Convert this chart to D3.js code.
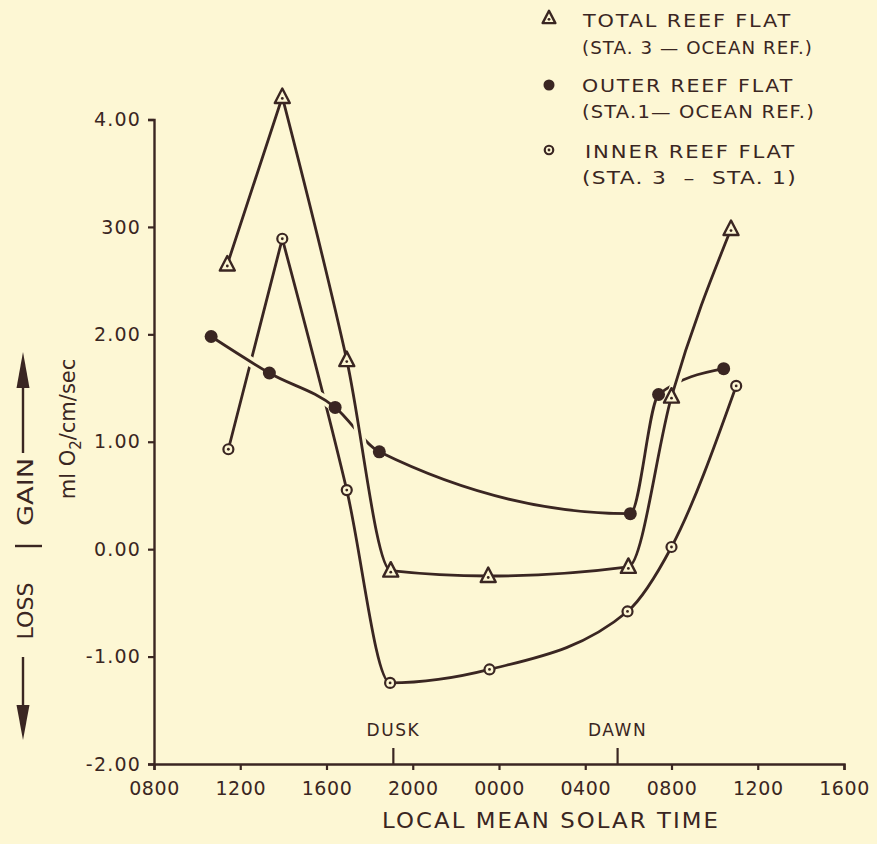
<!DOCTYPE html>
<html><head><meta charset="utf-8">
<script src="https://cdn.jsdelivr.net/npm/d3@7"></script>
<style>
html,body{margin:0;padding:0;background:#fdf7d4;}
svg{display:block;}
text{font-family:"DejaVu Sans",sans-serif;fill:#3a2622;}
</style>
</head><body>
<svg id="chart" width="877" height="844"></svg>
<script>
// ---- data ----
const xTickHours = [8, 12, 16, 20, 24, 28, 32, 36, 40];
const xTickLabels = ["0800", "1200", "1600", "2000", "0000", "0400", "0800", "1200", "1600"];
const yTickValues = [-2, -1, 0, 1, 2, 3, 4];
const yTickLabels = ["-2.00", "-1.00", "0.00", "1.00", "2.00", "300", "4.00"];

const totalHours  = [11.4, 13.95, 16.94, 18.98, 23.5, 30.0, 32.0, 34.76];
const totalValues = [2.65, 4.21, 1.76, -0.20, -0.25, -0.165, 1.42, 2.98];

const outerHours  = [10.65, 13.35, 16.4, 18.45, 30.09, 31.4, 34.42];
const outerValues = [1.98, 1.64, 1.32, 0.906, 0.33, 1.44, 1.68];

const innerHours  = [11.45, 13.95, 16.94, 18.95, 23.56, 29.96, 32.0, 35.0];
const innerValues = [0.93, 2.89, 0.55, -1.245, -1.12, -0.58, 0.02, 1.52];

const eventHours  = [19.1, 29.5];
const eventLabels = ["DUSK", "DAWN"];

const legendTitles = ["TOTAL REEF FLAT", "OUTER REEF FLAT", "INNER REEF FLAT"];
const legendSubs   = ["(STA. 3 \u2014 OCEAN REF.)", "(STA.1\u2014 OCEAN REF.)", "(STA. 3  \u2013  STA. 1)"];

const xTitle = "LOCAL MEAN SOLAR TIME";

// ---- drawing ----
const INK = "#3a2622", BG = "#fdf7d4";
const svg = d3.select("#chart");
svg.append("rect").attr("width", 877).attr("height", 844).attr("fill", BG);

const x = d3.scaleLinear().domain([8, 40]).range([154, 844]);
const y = d3.scaleLinear().domain([-2, 4]).range([764, 119.5]);

// axes
const yAxis = d3.axisLeft(y).tickValues(yTickValues)
  .tickFormat((d, i) => yTickLabels[i]).tickSize(6).tickPadding(7);
const gy = svg.append("g").attr("transform", "translate(154,0)").call(yAxis);
const xAxis = d3.axisBottom(x).tickValues(xTickHours)
  .tickFormat((d, i) => xTickLabels[i]).tickSize(6).tickPadding(12);
const gx = svg.append("g").attr("transform", "translate(0,764)").call(xAxis);

[gx, gy].forEach(g => {
  g.select(".domain").attr("stroke", INK).attr("stroke-width", 2.4);
  g.selectAll(".tick line").attr("stroke", INK).attr("stroke-width", 2.2);
  g.selectAll(".tick text").attr("fill", INK)
    .style("font-family", '"DejaVu Sans",sans-serif');
});
gy.selectAll(".tick text").attr("font-size", 19).attr("letter-spacing", 1.2);
gx.selectAll(".tick text").attr("font-size", 19).attr("letter-spacing", 0.6);

// dusk / dawn markers
svg.selectAll(".evt").data(eventHours).enter().append("line")
  .attr("x1", d => x(d)).attr("x2", d => x(d))
  .attr("y1", 748).attr("y2", 764)
  .attr("stroke", INK).attr("stroke-width", 2.2);
svg.selectAll(".evtlab").data(eventLabels).enter().append("text")
  .attr("x", (d, i) => x(eventHours[i])).attr("y", 736)
  .attr("text-anchor", "middle").attr("font-size", 17).attr("letter-spacing", 1.5)
  .text(d => d);

// x title
svg.append("text").attr("x", 382).attr("y", 828).attr("font-size", 22)
  .attr("letter-spacing", 2)
  .attr("textLength", 338).attr("lengthAdjust", "spacingAndGlyphs").text(xTitle);

// y title block
const yt = svg.append("g");
yt.append("text").attr("transform", "translate(33,492) rotate(-90)")
  .attr("text-anchor", "middle").attr("font-size", 22)
  .attr("textLength", 68).attr("lengthAdjust", "spacingAndGlyphs").text("GAIN");
yt.append("text").attr("transform", "translate(33,611) rotate(-90)")
  .attr("text-anchor", "middle").attr("font-size", 22)
  .attr("textLength", 57).attr("lengthAdjust", "spacingAndGlyphs").text("LOSS");
const unit = yt.append("text").attr("transform", "translate(75,429) rotate(-90)")
  .attr("text-anchor", "middle").attr("font-size", 21);
unit.append("tspan").text("ml O");
unit.append("tspan").attr("font-size", 15).attr("dy", 6).text("2");
unit.append("tspan").attr("dy", -6).text("/cm/sec");
yt.append("line").attr("x1", 15).attr("x2", 42).attr("y1", 546).attr("y2", 546)
  .attr("stroke", INK).attr("stroke-width", 2.4);
yt.append("line").attr("x1", 23).attr("x2", 23).attr("y1", 453).attr("y2", 380)
  .attr("stroke", INK).attr("stroke-width", 2.4);
yt.append("path").attr("d", "M23,352L29.5,388L16.5,388Z").attr("fill", INK);
yt.append("line").attr("x1", 23).attr("x2", 23).attr("y1", 657).attr("y2", 712)
  .attr("stroke", INK).attr("stroke-width", 2.4);
yt.append("path").attr("d", "M23,740L29.5,705L16.5,705Z").attr("fill", INK);

// series lines: smooth monotone pieces, pointed at local maxima (hand-drawn peaks)
const line = d3.line().x(d => x(d[0])).y(d => y(d[1])).curve(d3.curveMonotoneX);
const zip = (a, b) => a.map((v, i) => [v, b[i]]);
function pieces(pts) {
  const out = []; let cur = [pts[0]];
  for (let i = 1; i < pts.length; i++) {
    cur.push(pts[i]);
    const isPeak = i < pts.length - 1 && pts[i][1] > pts[i - 1][1] && pts[i][1] > pts[i + 1][1];
    if (isPeak) { out.push(cur); cur = [pts[i]]; }
  }
  out.push(cur);
  return out;
}
const series = [
  {pts: zip(innerHours, innerValues), kind: "ring"},
  {pts: zip(outerHours, outerValues), kind: "dot"},
  {pts: zip(totalHours, totalValues), kind: "tri"}
];
series.forEach((s, i) => {
  const d = pieces(s.pts).map(p => line(p)).join("");
  if (i > 0) {
    svg.append("path").attr("d", d).attr("fill", "none")
      .attr("stroke", BG).attr("stroke-width", 10);
  }
  svg.append("path").attr("d", d).attr("fill", "none")
    .attr("stroke", INK).attr("stroke-width", 2.8)
    .attr("stroke-linejoin", "round").attr("stroke-linecap", "round");
});

function marker(g, kind, cx, cy, scale) {
  const k = scale || 1;
  if (kind === "tri") {
    g.append("path")
      .attr("d", `M${cx},${cy - 8.5 * k}L${cx + 7.5 * k},${cy + 6 * k}L${cx - 7.5 * k},${cy + 6 * k}Z`)
      .attr("fill", BG).attr("stroke", INK).attr("stroke-width", 2.4).attr("stroke-linejoin", "round");
    g.append("circle").attr("cx", cx).attr("cy", cy + 1.5 * k).attr("r", 1.4).attr("fill", INK);
  } else if (kind === "dot") {
    g.append("circle").attr("cx", cx).attr("cy", cy).attr("r", 6.5 * k).attr("fill", INK);
  } else {
    g.append("circle").attr("cx", cx).attr("cy", cy).attr("r", 5 * k)
      .attr("fill", BG).attr("stroke", INK).attr("stroke-width", 2.2);
    g.append("circle").attr("cx", cx).attr("cy", cy).attr("r", 1.4).attr("fill", INK);
  }
}
const mg = svg.append("g");
series.forEach(s => s.pts.forEach(p => marker(mg, s.kind, x(p[0]), y(p[1]))));

// legend
const legKinds = ["tri", "dot", "ring"];
const legSymY = [18, 85, 150];
const legTitleY = [27, 92, 158];
const legSubY = [54, 118, 184];
const legTitleX = [583, 582, 585];
const legTitleW = [209, 212, 211];
const legSubW = [231, 233, 215];
const lg = svg.append("g");
legendTitles.forEach((t, i) => {
  marker(lg, legKinds[i], 549, legSymY[i], 0.85);
  lg.append("text").attr("x", legTitleX[i]).attr("y", legTitleY[i]).attr("font-size", 17)
    .attr("letter-spacing", 1.5)
    .attr("textLength", legTitleW[i]).attr("lengthAdjust", "spacingAndGlyphs").text(t);
  lg.append("text").attr("x", 582).attr("y", legSubY[i]).attr("font-size", 17)
    .attr("letter-spacing", 1)
    .attr("textLength", legSubW[i]).attr("lengthAdjust", "spacingAndGlyphs")
    .style("white-space", "pre").text(legendSubs[i]);
});
</script>
</body></html>
